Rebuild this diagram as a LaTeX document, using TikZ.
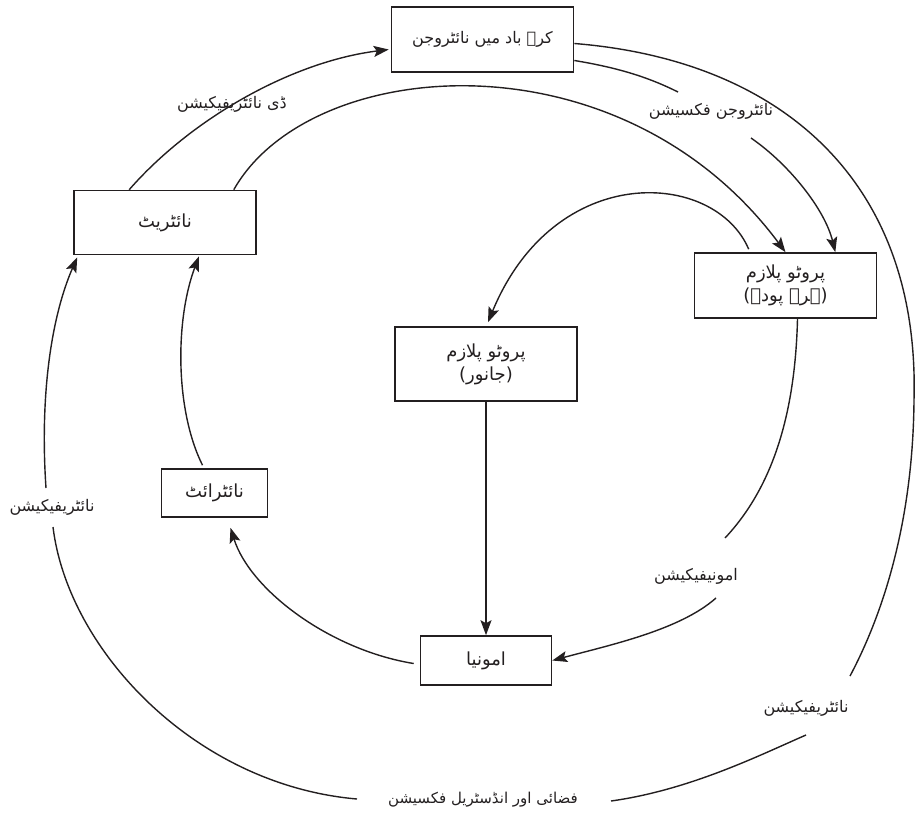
\documentclass[tikz,border=0pt]{standalone}
\usepackage{fontspec}
\newfontfamily\urdufont[Script=Arabic]{DejaVu Sans}
\TeXXeTstate=1
\usetikzlibrary{arrows.meta,calc}
\definecolor{ink}{RGB}{35,31,32}
\newcommand\urt[1]{\urdufont\beginR #1\endR}
\tikzset{
  box/.style={draw=ink, line width=1.6pt, inner sep=0pt, align=center,
    font=\urdufont\fontsize{18pt}{23pt}\selectfont, text=ink},
  lab/.style={inner sep=1pt, font=\urdufont\fontsize{16pt}{20pt}\selectfont, text=ink},
  conn/.style={draw=ink, line width=1.4pt},
  arr/.style={conn, -{Stealth[length=15pt,width=11pt,inset=3pt]}}
}
\begin{document}
\begin{tikzpicture}[x=1pt,y=-1pt]
\useasboundingbox (0,0) rectangle (917,819);
% boxes
\node[box, minimum width=182pt, minimum height=65pt, font=\urdufont\fontsize{16pt}{20pt}\selectfont] (atm) at (482.5,39.5) {\urt{کرہ باد میں نائٹروجن}};
\node[box, minimum width=182pt, minimum height=64pt] (nitrate) at (165,222.5) {\urt{نائٹریٹ}};
\node[box, minimum width=182pt, minimum height=65pt] (plants) at (785.5,285.5) {\urt{پروٹو پلازم}\\\urt{(ہرے پودے)}};
\node[box, minimum width=182pt, minimum height=74pt] (animal) at (486,364) {\urt{پروٹو پلازم}\\\urt{(جانور)}};
\node[box, minimum width=106pt, minimum height=48pt] (nitrite) at (214.5,493) {\urt{نائٹرائٹ}};
\node[box, minimum width=131pt, minimum height=49pt] (ammonia) at (486,660.5) {\urt{امونیا}};
% labels
\node[lab] (lden) at (232,104) {\urt{ڈی نائٹریفیکیشن}};
\node[lab] (lfix) at (711,111) {\urt{نائٹروجن فکسیشن}};
\node[lab] (lamm) at (696,576) {\urt{امونیفیکیشن}};
\node[lab] (lnitL) at (52,507) {\urt{نائٹریفیکیشن}};
\node[lab] (lnitR) at (806,708) {\urt{نائٹریفیکیشن}};
\node[lab, font=\urdufont\fontsize{15pt}{19pt}\selectfont] (lbot) at (483,800) {\urt{فضائی اور انڈسٹریل فکسیشن}};
% denitrification
\draw[arr] ($(nitrate.north west)+(56,0)$) .. controls (190,120) and (290,62) .. ($(atm.west)+(-2,10)$);
% outer right
\draw[conn] ($(atm.east)+(0,4)$) .. controls (780,60) and (920,180) .. (914,400)
  .. controls (913,520) and (884,612) .. ($(lnitR.center)+(44,-32)$);
\draw[conn] ($(lnitR.center)+(0,27)$) .. controls (760,755) and (690,790) .. ($(lbot.center)+(128,1)$);
% nitrogen fixation
\draw[conn] ($(atm.east)+(0,21)$) .. controls (620,68) and (650,78) .. ($(lfix.center)+(-33,-19)$);
\draw[arr] ($(lfix.center)+(40,27)$) .. controls (790,165) and (825,210) .. ($(plants.north east)+(-42,0)$);
% nitrate to plants
\draw[arr] ($(nitrate.north east)+(-23,0)$) .. controls (310,55) and (620,30) .. (plants.north);
% plants to animal
\draw[arr] ($(plants.north west)+(55,-3)$) .. controls (715,170) and (555,160) .. ($(animal.north)+(2,-4)$);
% animal to ammonia
\draw[arr] (animal.south) -- (ammonia.north);
% ammonification
\draw[conn] ($(plants.south)+(12,0)$) .. controls (795,420) and (770,490) .. ($(lamm.center)+(29,-38)$);
\draw[arr] ($(lamm.center)+(20,22)$) .. controls (680,630) and (610,645) .. (ammonia.east);
% ammonia to nitrite
\draw[arr] ($(ammonia.west)+(-6,3)$) .. controls (330,650) and (250,590) .. ($(nitrite.south)+(16,10)$);
% nitrite to nitrate
\draw[arr] ($(nitrite.north)+(-12,-3)$) .. controls (175,410) and (175,320) .. ($(nitrate.south)+(34,1)$);
% outer left
\draw[conn] ($(lbot.center)+(-126,-1)$) .. controls (195,785) and (68,650) .. ($(lnitL.center)+(1,20)$);
\draw[arr] ($(lnitL.center)+(-6,-19)$) .. controls (40,400) and (50,320) .. ($(nitrate.south west)+(4,2)$);
\end{tikzpicture}
\end{document}
